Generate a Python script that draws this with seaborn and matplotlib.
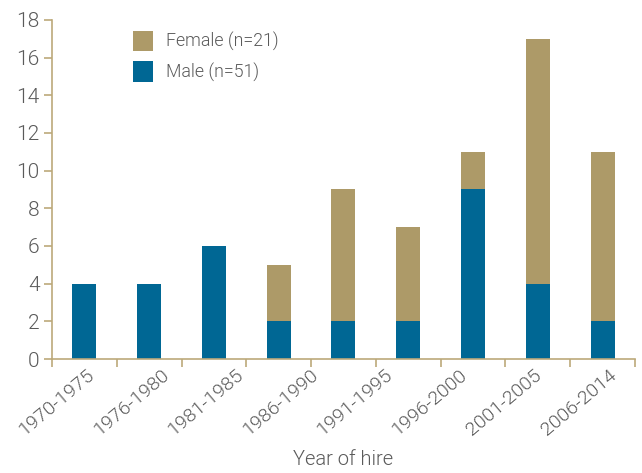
import matplotlib
matplotlib.use('Agg')
import matplotlib.pyplot as plt
import numpy as np
import pandas as pd
import seaborn as sns
from matplotlib.patches import Patch

# bars (9 of them) and the period labels shown under the axis (8 of them)
bar_index = ['b1', 'b2', 'b3', 'b4', 'b5', 'b6', 'b7', 'b8', 'b9']
male = [4, 4, 6, 2, 2, 2, 9, 4, 2]
female = [0, 0, 0, 3, 7, 5, 2, 13, 9]
period_labels = ['1970-1975', '1976-1980', '1981-1985', '1986-1990',
                 '1991-1995', '1996-2000', '2001-2005', '2006-2014']
legend_labels = ['Female (n=21)', 'Male (n=51)']

MALE_COLOR = '#006794'
FEMALE_COLOR = '#ad9a68'
AXIS_COLOR = '#bca97a'
TEXT_COLOR = '#5a5a5a'
WEIGHT = 300  # Roboto Light

df = pd.DataFrame({'bar': bar_index, 'male': male, 'female': female})
df['total'] = df['male'] + df['female']

sns.set_theme(style='white')
plt.rcParams['font.family'] = ['Roboto', 'Liberation Sans', 'DejaVu Sans']
plt.rcParams['font.weight'] = WEIGHT

fig = plt.figure(figsize=(6.42, 4.73), dpi=100)
ax = fig.add_axes([0.081, 0.241, 0.908, 0.717])

sns.barplot(data=df, x='bar', y='total', color=FEMALE_COLOR, width=0.37,
            saturation=1, linewidth=0, ax=ax)
sns.barplot(data=df, x='bar', y='male', color=MALE_COLOR, width=0.37,
            saturation=1, linewidth=0, ax=ax)

ax.set_xlim(-0.5, len(bar_index) - 0.5)
ax.set_ylim(0, 18)
ax.set_yticks(np.arange(0, 19, 2))
ax.set_yticklabels([str(v) for v in range(0, 19, 2)], fontweight=WEIGHT)

for side in ['top', 'right']:
    ax.spines[side].set_visible(False)
for side in ['left', 'bottom']:
    ax.spines[side].set_color(AXIS_COLOR)
    ax.spines[side].set_linewidth(1.2)

# boundary tick marks between bars, labels placed separately
ax.set_xticks(np.arange(-0.5, len(bar_index), 1.0), minor=True)
ax.tick_params(axis='x', which='minor', length=6, width=1.2, color=AXIS_COLOR,
               direction='out', bottom=True)
label_pos = np.linspace(0.03, 8.09, len(period_labels))
ax.set_xticks(label_pos)
ax.set_xticklabels(period_labels, rotation=40, ha='right',
                   rotation_mode='anchor', fontsize=14, color=TEXT_COLOR,
                   fontweight=WEIGHT)
ax.tick_params(axis='x', which='major', length=0, pad=5)
ax.tick_params(axis='y', length=6, width=1.2, color=AXIS_COLOR, direction='out',
               left=True, labelsize=15, labelcolor=TEXT_COLOR, pad=3)

ax.set_xlabel('Year of hire', fontsize=14.5, color=TEXT_COLOR, labelpad=8,
              fontweight=WEIGHT)
ax.set_ylabel('')

handles = [Patch(facecolor=FEMALE_COLOR, edgecolor='none'),
           Patch(facecolor=MALE_COLOR, edgecolor='none')]
leg = ax.legend(handles, legend_labels, loc='upper left',
                bbox_to_anchor=((133 - 52) / 583, (359 - 31) / 339),
                frameon=False, fontsize=12.8, labelcolor=TEXT_COLOR,
                handlelength=1.1, handleheight=1.4, handletextpad=0.75,
                labelspacing=0.55, borderpad=0, borderaxespad=0)
for t in leg.get_texts():
    t.set_fontweight(WEIGHT)

fig.savefig('out.png', dpi=100)
